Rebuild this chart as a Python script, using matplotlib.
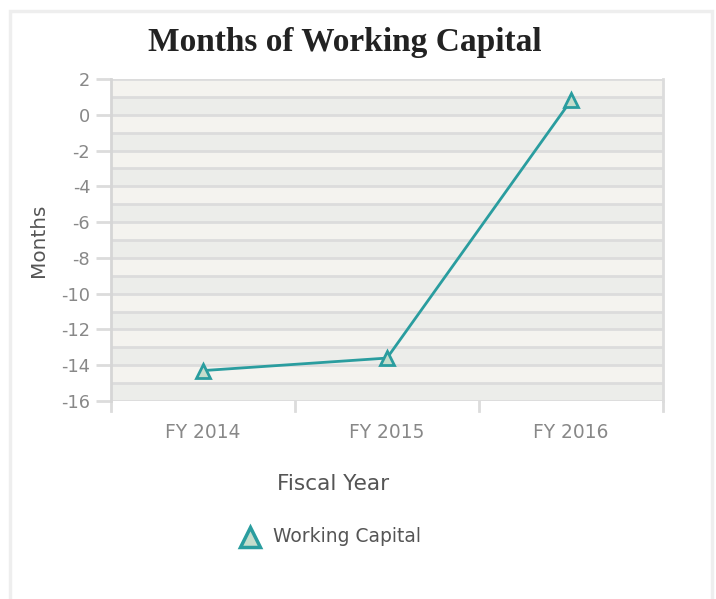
import matplotlib
matplotlib.use("Agg")
import matplotlib.pyplot as plt
from matplotlib.lines import Line2D
from matplotlib.patches import Rectangle

categories = ["FY 2014", "FY 2015", "FY 2016"]
values = [-14.3, -13.6, 0.8]
yticks = list(range(-16, 3, 2))
series_name = "Working Capital"

W, H = 716, 599
fig = plt.figure(figsize=(W / 100, H / 100), dpi=100)
fig.patch.set_facecolor("white")
FONT = "DejaVu Sans"

# outer frame
fig.add_artist(Rectangle((10 / W, -0.05), 702 / W, (H - 11) / H + 0.05,
                         transform=fig.transFigure, fill=False,
                         edgecolor="#eeeeee", linewidth=2.5))

ax = fig.add_axes([111 / W, (H - 401) / H, 552 / W, 322 / H])
ax.set_xlim(-0.5, len(categories) - 0.5)
ax.set_ylim(-16, 2)

for k in range(-16, 2):
    col = "#ecedea" if k % 2 == 0 else "#f4f3ef"
    ax.axhspan(k, k + 1, color=col, zorder=0, linewidth=0)
for k in range(-16, 3):
    ax.axhline(k, color="#dcdcdc", linewidth=2, zorder=1)

line_col = "#2a9d9f"
ax.plot(range(len(categories)), values, color=line_col, linewidth=2, zorder=3,
        marker="^", markersize=10, markerfacecolor="#c5ddcc",
        markeredgecolor=line_col, markeredgewidth=2)

for s in ["top", "bottom"]:
    ax.spines[s].set_visible(False)
ax.spines["left"].set_color("#d6d6d6")
ax.spines["left"].set_linewidth(2)
ax.spines["right"].set_color("#dcdcdc")
ax.spines["right"].set_linewidth(2)

ax.set_yticks(yticks)
ax.set_yticklabels([str(t) for t in yticks])
ax.tick_params(axis="y", length=11, width=2, color="#dcdcdc",
               labelcolor="#888888", labelsize=12.8, pad=4)
ax.set_xticks(range(len(categories)))
ax.set_xticklabels(categories)
ax.tick_params(axis="x", length=0, labelcolor="#888888", labelsize=13.4, pad=16)
for t in ax.get_xticklabels() + ax.get_yticklabels():
    t.set_fontfamily(FONT)

# category boundary ticks
for b in [x - 0.5 for x in range(len(categories) + 1)]:
    ax.plot([b, b], [0, -0.03], transform=ax.get_xaxis_transform(),
            color="#dcdcdc", linewidth=2, clip_on=False, zorder=2)

fig.text(345 / W, 1 - 42 / H, "Months of Working Capital", ha="center",
         va="center", fontsize=24, fontweight="bold", family="Liberation Serif",
         color="#222222")
fig.text(39 / W, 1 - 240 / H, "Months", rotation=90, ha="center", va="center",
         fontsize=14.4, family=FONT, color="#555555")
fig.text(333 / W, 1 - 484 / H, "Fiscal Year", ha="center", va="center",
         fontsize=15.6, family=FONT, color="#555555")

# legend
fig.add_artist(Line2D([250 / W], [1 - 537 / H], transform=fig.transFigure,
                      linestyle="none", marker="^", markersize=14,
                      markerfacecolor="#c5ddcc", markeredgecolor=line_col,
                      markeredgewidth=2.5))
fig.text(273 / W, 1 - 536 / H, series_name, ha="left", va="center",
         fontsize=13.5, family=FONT, color="#555555")

fig.savefig("out.png", dpi=100)
